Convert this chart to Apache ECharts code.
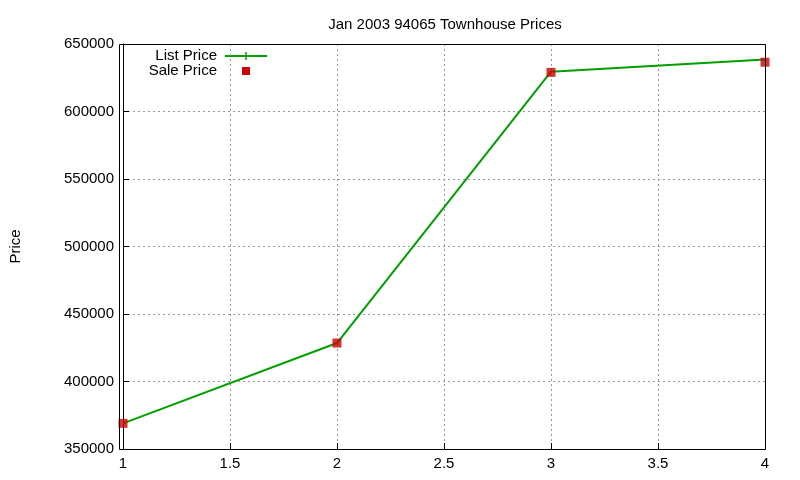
<!DOCTYPE html>
<html><head><meta charset="utf-8">
<script src="https://cdn.jsdelivr.net/npm/echarts@6/dist/echarts.min.js"></script>
<style>html,body{margin:0;padding:0;background:#fff}#c{width:800px;height:480px}</style>
</head><body><div id="c"></div>
<script>
var xs = [1, 2, 3, 4];
var listPrice = [369000, 428500, 629500, 638500];
var salePrice = [369000, 428500, 629000, 636500];

function pairs(v) { return xs.map(function (x, i) { return [x, v[i]]; }); }

var chart = echarts.init(document.getElementById('c'));
var font = 'Liberation Sans, Arial, sans-serif';
var option = {
    animation: false,
    title: {
        text: 'Jan 2003 94065 Townhouse Prices',
        left: 440, top: 12, textAlign: 'center',
        textStyle: { fontSize: 15, fontWeight: 'normal', color: '#000', fontFamily: font }
    },
    grid: { left: 119, right: 35, top: 44, bottom: 31 },
    xAxis: {
        type: 'value', min: 1, max: 4, interval: 0.5,
        axisLine: { lineStyle: { color: '#000' } },
        axisTick: { inside: true, length: 6, lineStyle: { color: '#000' } },
        axisLabel: { color: '#000', fontSize: 15, fontFamily: font, margin: 7 },
        splitLine: { lineStyle: { color: '#999', type: [2, 3] } }
    },
    yAxis: {
        type: 'value', min: 350000, max: 650000, interval: 50000,
        name: 'Price', nameLocation: 'middle', nameGap: 100, nameRotate: 90,
        nameTextStyle: { color: '#000', fontSize: 15, fontFamily: font },
        axisLine: { lineStyle: { color: '#000' } },
        axisTick: { inside: true, length: 6, lineStyle: { color: '#000' } },
        axisLabel: { color: '#000', fontSize: 15, fontFamily: font, margin: 9, formatter: function (v) { return String(v); } },
        splitLine: { lineStyle: { color: '#999', type: [2, 3] } }
    },
    graphic: [
        { type: 'rect', shape: { x: 119.5, y: 44.5, width: 646, height: 405 }, style: { fill: 'none', stroke: '#000', lineWidth: 1 }, z: 10 },
        { type: 'text', style: { text: 'List Price', x: 217, y: 56, textAlign: 'right', textVerticalAlign: 'middle', fontSize: 15, fontFamily: font, fill: '#000' } },
        { type: 'text', style: { text: 'Sale Price', x: 217, y: 71, textAlign: 'right', textVerticalAlign: 'middle', fontSize: 15, fontFamily: font, fill: '#000' } },
        { type: 'line', shape: { x1: 225, y1: 56, x2: 267, y2: 56 }, style: { stroke: '#00a000', lineWidth: 2 } },
        { type: 'line', shape: { x1: 246, y1: 52, x2: 246, y2: 60 }, style: { stroke: '#00a000', lineWidth: 1.5 } },
        { type: 'rect', shape: { x: 242, y: 67, width: 8, height: 8 }, style: { fill: '#cc0000' } }
    ],
    series: [
        {
            name: 'List Price', type: 'line', data: pairs(listPrice),
            symbol: 'none', lineStyle: { color: '#00a000', width: 2 }
        },
        {
            name: 'Sale Price', type: 'scatter', data: pairs(salePrice),
            symbol: 'rect', symbolSize: 9, itemStyle: { color: '#cc0000' }, z: 5
        }
    ]
};
chart.setOption(option);
</script></body></html>
